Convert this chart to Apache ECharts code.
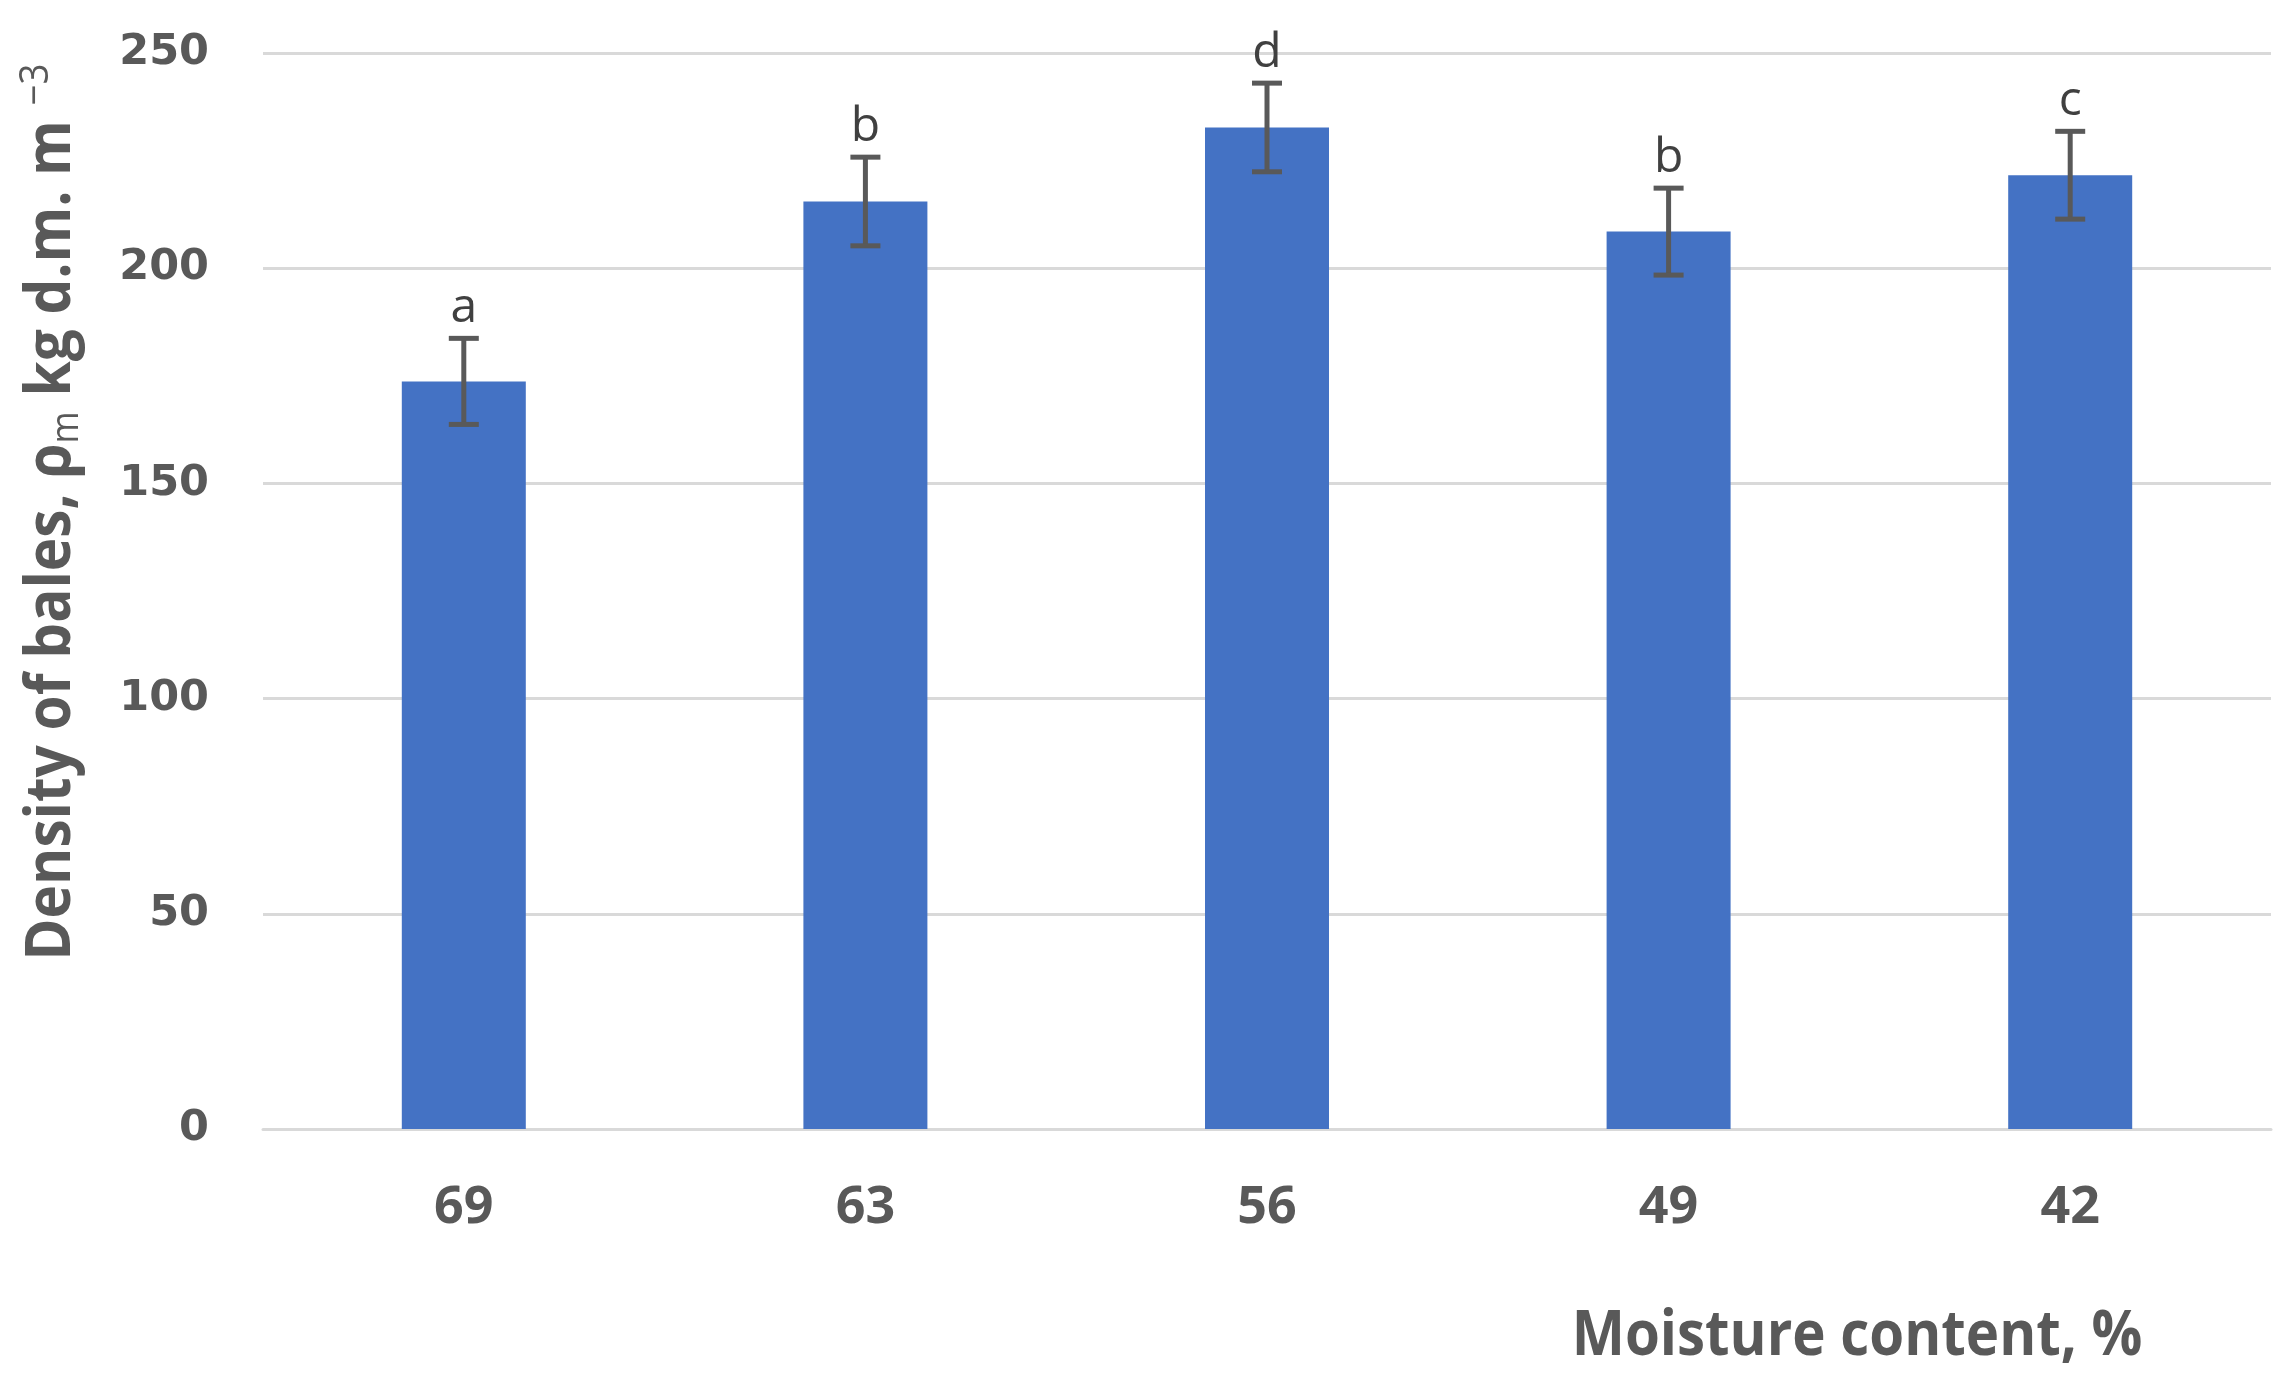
<!DOCTYPE html>
<html><head><meta charset="utf-8">
<script src="https://cdn.jsdelivr.net/npm/echarts@6/dist/echarts.min.js"></script>
<style>html,body{margin:0;padding:0;background:#fff}#c{width:2294px;height:1391px}</style>
</head><body><div id="c"></div>
<script>
const categories = ['69', '63', '56', '49', '42'];
const densityValues = [173.7, 215.5, 232.7, 208.5, 221.6];
const errorValues = [10.0, 10.3, 10.3, 10.1, 10.2];
const groupLetters = ['a', 'b', 'd', 'b', 'c'];
const yMin = 0, yMax = 250, yStep = 50;
const xTitle = 'Moisture content, %';

const chart = echarts.init(document.getElementById('c'));
const errData = densityValues.map((v, i) => [i, v, errorValues[i]]);
const txtColor = '#595959';

const option = {
  animation: false,
  backgroundColor: '#ffffff',
  grid: { left: 263, right: 23, top: 53, bottom: 262 },
  xAxis: {
    type: 'category', data: categories,
    axisLine: { lineStyle: { color: '#d9d9d9', width: 3 } },
    axisTick: { show: false },
    axisLabel: { color: txtColor, fontFamily: 'Open Sans', fontWeight: 'bold', fontSize: 52, margin: 53 }
  },
  yAxis: {
    type: 'value', min: yMin, max: yMax, interval: yStep,
    axisLine: { show: false }, axisTick: { show: false },
    splitLine: { lineStyle: { color: '#d9d9d9', width: 3 } },
    axisLabel: { color: txtColor, fontFamily: 'DejaVu Sans', fontWeight: 'bold', fontSize: 43, margin: 54 }
  },
  series: [
    { type: 'bar', data: densityValues, barWidth: 124, itemStyle: { color: '#4472c4' }, z: 2 },
    {
      type: 'custom', data: errData, z: 5,
      renderItem: (params, api) => {
        const idx = api.value(0), v = api.value(1), e = api.value(2);
        const x = api.coord([idx, v])[0];
        const top = api.coord([idx, v + e])[1];
        const bot = api.coord([idx, v - e])[1];
        const half = 15;
        const ls = { stroke: '#595959', lineWidth: 5 };
        return {
          type: 'group', children: [
            { type: 'line', shape: { x1: x, y1: top, x2: x, y2: bot }, style: ls },
            { type: 'line', shape: { x1: x - half, y1: top, x2: x + half, y2: top }, style: ls },
            { type: 'line', shape: { x1: x - half, y1: bot, x2: x + half, y2: bot }, style: ls },
            { type: 'text', x: x, y: top - 6, style: { text: groupLetters[params.dataIndex], fill: '#404040', fontFamily: 'Open Sans', fontSize: 48, align: 'center', verticalAlign: 'bottom' } }
          ]
        };
      }
    }
  ],
  graphic: [
    {
      type: 'text', x: 52, y: 512, rotation: Math.PI / 2, scaleX: 0.915,
      style: {
        text: '{b|Density of bales, ρ}{s|m}{b| kg d.m. m }{p|−3}',
        align: 'center', verticalAlign: 'middle', fill: txtColor,
        rich: {
          b: { fontFamily: 'Open Sans', fontWeight: 'bold', fontSize: 62, fill: txtColor, lineHeight: 70 },
          s: { fontFamily: 'Open Sans', fontSize: 38, fill: txtColor, padding: [30, 0, 0, 0] },
          p: { fontFamily: 'Open Sans', fontSize: 40, fill: txtColor, padding: [0, 0, 30, 0] }
        }
      }
    },
    {
      type: 'text', x: 1857, y: 1337, scaleX: 0.91,
      style: { text: xTitle, fontFamily: 'Open Sans', fontWeight: 'bold', fontSize: 62, fill: txtColor, align: 'center', verticalAlign: 'middle' }
    }
  ]
};
chart.setOption(option);
</script></body></html>
